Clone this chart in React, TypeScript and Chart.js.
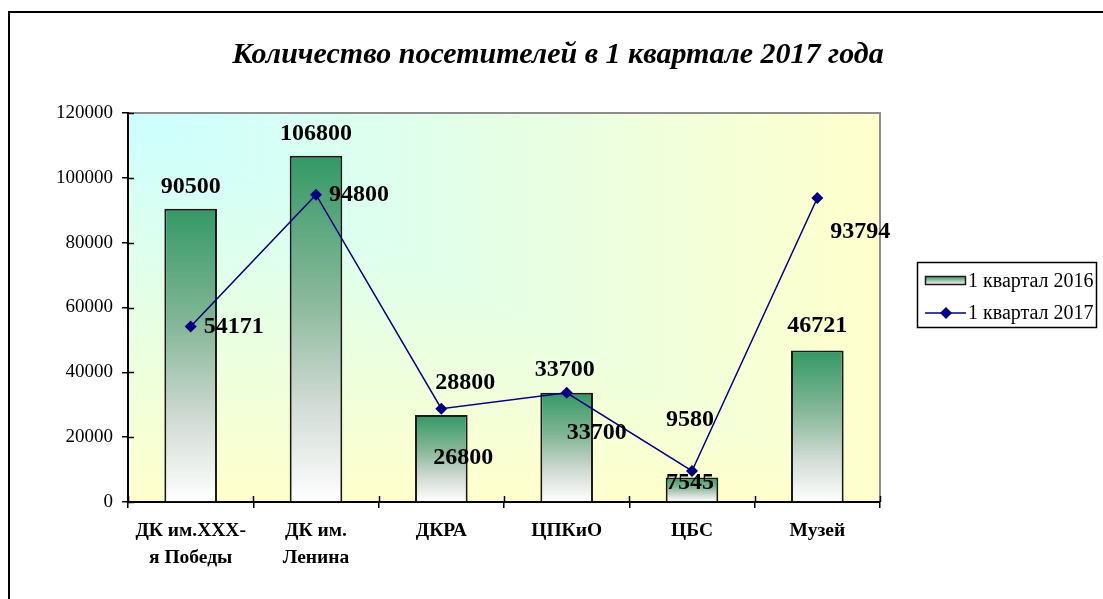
import React, { useEffect, useRef } from 'react';
import { Chart, registerables } from 'chart.js';

Chart.register(...registerables);

// ---------- data ----------
const categories: (string | string[])[] = [
  ['ДК им.XXX-', 'я Победы'],
  ['ДК им.', 'Ленина'],
  'ДКРА',
  'ЦПКиО',
  'ЦБС',
  'Музей',
];
const series2016 = [90500, 106800, 26800, 33700, 7545, 46721];
const series2017 = [54171, 94800, 28800, 33700, 9580, 93794];
const seriesNames = ['1 квартал 2016', '1 квартал 2017'];
const titleText = 'Количество посетителей в 1 квартале 2017 года';
const yMin = 0;
const yMax = 120000;
const yStep = 20000;

// ---------- style ----------
const FONT = '"Liberation Serif", "Times New Roman", serif';
const NAVY = '#000080';
const GREEN_TOP = '#339966';

// label placement (offsets from the mark, in px)
const barLabelOffsets = [[0, -22], [0, -22], [22, 43], [-2, -23], [-2, 5], [0, -25]];
const lineLabelOffsets = [[43, 0], [43, 0], [24, -26], [30, 40], [-2, -51], [43, 34]];

function barGradient(ctx: CanvasRenderingContext2D, top: number, bottom: number) {
  const g = ctx.createLinearGradient(0, top, 0, bottom);
  g.addColorStop(0, GREEN_TOP);
  g.addColorStop(0.4, '#86b798');
  g.addColorStop(0.72, '#d2dbd5');
  g.addColorStop(1, '#ffffff');
  return g;
}

const backgroundPlugin = {
  id: 'bgPlugin',
  beforeDraw(chart: any) {
    const { ctx, chartArea } = chart;
    const { left, top, right, bottom } = chartArea;
    ctx.save();
    // outer frame
    ctx.strokeStyle = '#000';
    ctx.lineWidth = 2;
    ctx.beginPath();
    ctx.moveTo(9, chart.height);
    ctx.lineTo(9, 12);
    ctx.lineTo(chart.width, 12);
    ctx.stroke();

    // plot area: "from corner" gradient, t = max(u, v)
    const c0 = '#ccffff';
    const c1 = '#ffffcc';
    const gh = ctx.createLinearGradient(left, 0, right, 0);
    gh.addColorStop(0, c0);
    gh.addColorStop(1, c1);
    const gv = ctx.createLinearGradient(0, top, 0, bottom);
    gv.addColorStop(0, c0);
    gv.addColorStop(1, c1);
    ctx.beginPath();
    ctx.moveTo(left, top);
    ctx.lineTo(right, top);
    ctx.lineTo(right, bottom);
    ctx.closePath();
    ctx.fillStyle = gh;
    ctx.fill();
    ctx.beginPath();
    ctx.moveTo(left, top);
    ctx.lineTo(left, bottom);
    ctx.lineTo(right, bottom);
    ctx.closePath();
    ctx.fillStyle = gv;
    ctx.fill();

    // plot border (top / right)
    ctx.strokeStyle = '#8c8c8c';
    ctx.lineWidth = 2;
    ctx.beginPath();
    ctx.moveTo(left, top);
    ctx.lineTo(right, top);
    ctx.lineTo(right, bottom);
    ctx.stroke();

    // title
    ctx.fillStyle = '#000';
    ctx.font = `italic bold 30px ${FONT}`;
    ctx.textAlign = 'center';
    ctx.textBaseline = 'middle';
    ctx.fillText(titleText, 558, 55);
    ctx.restore();
  },
};

const crossTicksPlugin = {
  id: 'crossTicks',
  afterDraw(chart: any) {
    const { ctx, chartArea } = chart;
    const ys = chart.scales.y;
    const xs = chart.scales.x;
    ctx.save();
    ctx.strokeStyle = '#000';
    ctx.lineWidth = 1.5;
    ctx.beginPath();
    ys.ticks.forEach((_t: any, i: number) => {
      const y = Math.round(ys.getPixelForTick(i)) + 0.5;
      ctx.moveTo(chartArea.left, y);
      ctx.lineTo(chartArea.left + 6, y);
    });
    for (let i = 0; i <= chart.data.labels.length; i++) {
      const x = Math.round(xs.getPixelForValue(i - 0.5)) + 0.5;
      ctx.moveTo(x, chartArea.bottom);
      ctx.lineTo(x, chartArea.bottom - 6);
    }
    ctx.stroke();
    ctx.restore();
  },
};

const labelsPlugin = {
  id: 'valueLabels',
  afterDatasetsDraw(chart: any) {
    const ctx = chart.ctx;
    const offsets = [barLabelOffsets, lineLabelOffsets];
    ctx.save();
    ctx.font = `bold 24px ${FONT}`;
    ctx.fillStyle = '#000';
    ctx.textAlign = 'center';
    ctx.textBaseline = 'middle';
    chart.data.datasets.forEach((ds: any, di: number) => {
      const meta = chart.getDatasetMeta(di);
      meta.data.forEach((el: any, i: number) => {
        const [dx, dy] = offsets[di][i];
        ctx.fillText(String(ds.data[i]), el.x + dx, el.y + dy);
      });
    });
    ctx.restore();
  },
};

const legendPlugin = {
  id: 'customLegend',
  afterDraw(chart: any) {
    const ctx = chart.ctx;
    const ds = chart.data.datasets;
    ctx.save();
    ctx.strokeStyle = '#000';
    ctx.lineWidth = 1.5;
    ctx.strokeRect(917.5, 262.5, 179, 65);

    // bar entry
    ctx.fillStyle = barGradient(ctx, 276, 285);
    ctx.fillRect(925, 276, 41, 9);
    ctx.strokeStyle = '#1a1a1a';
    ctx.lineWidth = 1.5;
    ctx.strokeRect(925.5, 276.5, 40, 8);

    // line entry
    ctx.strokeStyle = ds[1].borderColor;
    ctx.lineWidth = 1.5;
    ctx.beginPath();
    ctx.moveTo(925, 313);
    ctx.lineTo(966, 313);
    ctx.stroke();
    ctx.fillStyle = ds[1].pointBackgroundColor;
    ctx.beginPath();
    ctx.moveTo(946, 307);
    ctx.lineTo(952, 313);
    ctx.lineTo(946, 319);
    ctx.lineTo(940, 313);
    ctx.closePath();
    ctx.fill();

    ctx.fillStyle = '#000';
    ctx.font = `20px ${FONT}`;
    ctx.textAlign = 'left';
    ctx.textBaseline = 'middle';
    ctx.fillText(ds[0].label, 968, 282);
    ctx.fillText(ds[1].label, 968, 314);
    ctx.restore();
  },
};

export default function App() {
  const ref = useRef<HTMLCanvasElement | null>(null);

  useEffect(() => {
    if (!ref.current) return;
    const chart = new Chart(ref.current, {
      type: 'bar',
      data: {
        labels: categories as any,
        datasets: [
          {
            type: 'bar',
            label: seriesNames[0],
            data: series2016,
            order: 1,
            backgroundColor: (c: any) => {
              const chart = c.chart;
              const ys = chart.scales?.y;
              if (!ys || c.type !== 'data') return GREEN_TOP;
              const top = ys.getPixelForValue(c.raw);
              const bottom = ys.getPixelForValue(0);
              if (!isFinite(top) || !isFinite(bottom) || top === bottom) return GREEN_TOP;
              return barGradient(chart.ctx, top, bottom);
            },
            borderColor: '#1a1a1a',
            borderWidth: 2,
            barPercentage: 0.42,
            categoryPercentage: 1,
          } as any,
          {
            type: 'line',
            label: seriesNames[1],
            data: series2017,
            order: 0,
            borderColor: NAVY,
            backgroundColor: NAVY,
            borderWidth: 1.5,
            pointStyle: 'rectRot',
            pointRadius: 6,
            pointBackgroundColor: NAVY,
            pointBorderColor: NAVY,
            pointBorderWidth: 0,
            tension: 0,
          } as any,
        ],
      },
      options: {
        responsive: false,
        animation: false,
        devicePixelRatio: 1,
        layout: { padding: { left: 0, top: 113, right: 223, bottom: 0 } },
        plugins: {
          legend: { display: false },
          title: { display: false },
          tooltip: { enabled: false },
        },
        scales: {
          x: {
            offset: true,
            grid: {
              offset: true,
              drawOnChartArea: false,
              drawTicks: true,
              tickLength: 6,
              color: '#000',
              lineWidth: 1.5,
            },
            border: { display: true, color: '#000', width: 2 },
            ticks: {
              color: '#000',
              font: { family: FONT, size: 19.5, weight: 'bold', lineHeight: 1.4 },
              padding: 9,
              maxRotation: 0,
              autoSkip: false,
            },
            afterFit: (s: any) => {
              s.height = 97;
            },
          },
          y: {
            min: yMin,
            max: yMax,
            ticks: {
              stepSize: yStep,
              color: '#000',
              font: { family: FONT, size: 19 },
              padding: 9,
              callback: (v: any) => String(v),
            },
            grid: {
              drawOnChartArea: false,
              drawTicks: true,
              tickLength: 6,
              color: '#000',
              lineWidth: 1.5,
            },
            border: { display: true, color: '#000', width: 2 },
            afterFit: (s: any) => {
              s.width = 128;
            },
          },
        },
      },
      plugins: [backgroundPlugin, crossTicksPlugin, labelsPlugin, legendPlugin],
    });
    return () => chart.destroy();
  }, []);

  return (
    <div
      style={{
        position: 'absolute',
        left: 0,
        top: 0,
        width: 1103,
        height: 599,
        overflow: 'hidden',
        background: '#fff',
      }}
    >
      <canvas ref={ref} width={1103} height={599} style={{ display: 'block', width: 1103, height: 599 }} />
    </div>
  );
}
